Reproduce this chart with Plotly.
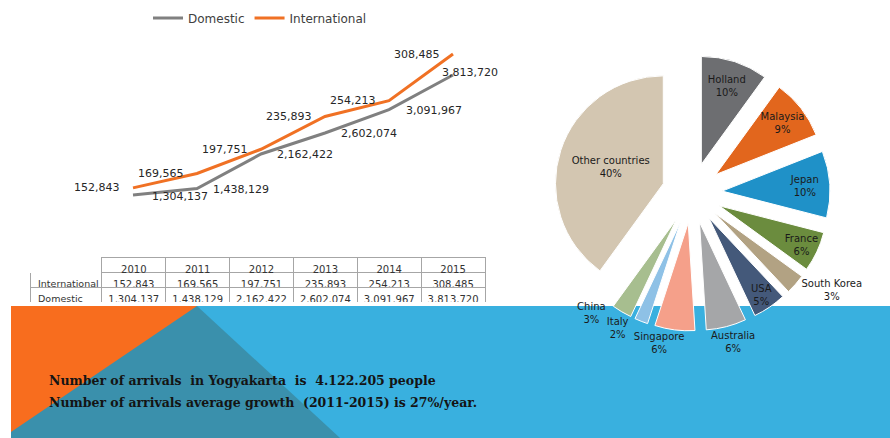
import plotly.graph_objects as go

# ---------------- data ----------------
years = ["2010", "2011", "2012", "2013", "2014", "2015"]
international = [152843, 169565, 197751, 235893, 254213, 308485]
domestic = [1304137, 1438129, 2162422, 2602074, 3091967, 3813720]

countries = ["Holland", "Malaysia", "Jepan", "France", "South Korea", "USA",
             "Australia", "Singapore", "Italy", "China", "Other countries"]
shares = [10, 9, 10, 6, 3, 5, 6, 6, 2, 3, 40]

summary_lines = [
    "Number of arrivals&nbsp; in Yogyakarta&nbsp; is&nbsp; 4.122.205 people",
    "Number of arrivals average growth&nbsp; (2011-2015) is 27%/year.",
]

# ---------------- styles ----------------
W, H = 890, 438
def px(x):
    return x / W
def py(y):
    return 1 - y / H

FONT = "DejaVu Sans"
slice_colors = ["#6D6E71", "#E2661D", "#1F91C8", "#6B8C3E", "#B2A283", "#44597A",
                "#A5A6A8", "#F5A08A", "#8EC1E6", "#A7BE8F", "#D3C6B1"]
# main pie text positions; the crowded bottom labels are drawn by separate
# transparent overlay pies so plotly does not stack them with leader lines
main_pos = ["inside", "inside", "inside", "inside", "outside", "inside",
            "none", "none", "none", "none", "inside"]
overlay_labels = {"Australia": 9, "Singapore": -6.5, "Italy": 3, "China": 5}  # label -> rotation

fig = go.Figure()

fig.add_trace(go.Scatter(
    x=years, y=domestic, name="Domestic", mode="lines",
    line=dict(color="#808080", width=3), xaxis="x", yaxis="y",
))
fig.add_trace(go.Scatter(
    x=years, y=international, name="International", mode="lines",
    line=dict(color="#F07124", width=3), xaxis="x", yaxis="y2",
))

annotations = []
for i, v in enumerate(international):
    annotations.append(dict(
        x=i, y=v, xref="x", yref="y2", text=f"{v:,}", showarrow=False,
        xanchor="right", yanchor="middle", xshift=-11,
        font=dict(family=FONT, size=11, color="#262626"),
    ))
dom_shift = [17, 14, 14, 14, 15, -13]
dom_yshift = [-1, -1, -1, -1, -1, 3]
for i, v in enumerate(domestic):
    annotations.append(dict(
        x=i, y=v, xref="x", yref="y", text=f"{v:,}", showarrow=False,
        xanchor="left", yanchor="middle", xshift=dom_shift[i], yshift=dom_yshift[i],
        font=dict(family=FONT, size=11, color="#262626"),
    ))

# table
header_vals = [""] + years
cell_vals = [["International", "Domestic"]] + [
    [f"{a:,}", f"{b:,}"] for a, b in zip(international, domestic)
]
fig.add_trace(go.Table(
    domain=dict(x=[px(30), px(485)], y=[py(303), py(257)]),
    columnwidth=[72, 64, 64, 64, 64, 64, 64],
    header=dict(values=header_vals, height=15,
                line=dict(color=["white"] + ["#A6A6A6"] * 6, width=1),
                fill=dict(color="white"), align="center",
                font=dict(family=FONT, size=10, color="#333333")),
    cells=dict(values=cell_vals, height=15,
               line=dict(color="#A6A6A6", width=1),
               fill=dict(color="white"),
               align=["left"] + ["center"] * 6,
               font=dict(family=FONT, size=[9.5] + [10] * 6, color="#333333")),
))

# pie
pie_domain = dict(x=[px(554), px(830)], y=[py(331), py(55)])
pulls = [0.28] * len(shares)
fig.add_trace(go.Pie(
    labels=countries, values=shares, sort=False, direction="clockwise",
    rotation=0, pull=pulls,
    marker=dict(colors=slice_colors, line=dict(color="white", width=1)),
    texttemplate="%{label}<br>%{value}%", textposition=main_pos,
    insidetextorientation="horizontal",
    textfont=dict(family=FONT, size=10, color="#1A1A1A"),
    domain=pie_domain, showlegend=False, hoverinfo="label+percent",
))
for lab, rot in overlay_labels.items():
    fig.add_trace(go.Pie(
        labels=countries, values=shares, sort=False, direction="clockwise",
        rotation=rot, pull=pulls,
        marker=dict(colors=["rgba(0,0,0,0)"] * len(shares), line=dict(width=0)),
        texttemplate="%{label}<br>%{value}%",
        textposition=["outside" if c == lab else "none" for c in countries],
        textfont=dict(family=FONT, size=10, color="#1A1A1A"),
        domain=pie_domain, showlegend=False, hoverinfo="skip",
    ))

for i, t in enumerate(summary_lines):
    annotations.append(dict(
        x=px(47), y=py(380 + 22 * i), xref="paper", yref="paper",
        xanchor="left", yanchor="middle", text=t, showarrow=False,
        font=dict(family="DejaVu Serif", size=12.5, color="#141414", weight="bold"),
    ))

shapes = [
    dict(type="rect", xref="paper", yref="paper", x0=px(11), x1=1, y0=0, y1=py(306),
         fillcolor="#39B0DF", line=dict(width=0), layer="below"),
    dict(type="path", xref="paper", yref="paper",
         path=f"M {px(197)} {py(306)} L {px(340)} {py(438)} L {px(11)} {py(438)} L {px(11)} {py(306)} Z",
         fillcolor="#3A90AC", line=dict(width=0), layer="below"),
    dict(type="path", xref="paper", yref="paper",
         path=f"M {px(11)} {py(306)} L {px(197)} {py(306)} L {px(11)} {py(432)} Z",
         fillcolor="#F86D1E", line=dict(width=0), layer="below"),
]

hidden = dict(showgrid=False, zeroline=False, showline=False, showticklabels=False,
              ticks="")
fig.update_layout(
    width=W, height=H, margin=dict(l=0, r=0, t=0, b=0, autoexpand=False),
    paper_bgcolor="white", plot_bgcolor="rgba(0,0,0,0)",
    uniformtext=dict(minsize=10, mode="show"),
    xaxis=dict(domain=[px(101), px(485)], type="category", range=[-0.5, 5.5], **hidden),
    yaxis=dict(domain=[py(240), py(40)], range=[363000, 4547000], **hidden),
    yaxis2=dict(overlaying="y", range=[92234, 324792], **hidden),
    showlegend=True,
    legend=dict(orientation="h", x=px(148), y=py(18), xanchor="left", yanchor="middle",
                font=dict(family=FONT, size=12, color="#404040"),
                bgcolor="rgba(0,0,0,0)"),
    annotations=annotations, shapes=shapes,
)

fig.write_html(
    "out.html",
    config={"responsive": False, "displayModeBar": False},
    post_script="document.body.style.margin='0';document.body.style.overflow='hidden';",
)
